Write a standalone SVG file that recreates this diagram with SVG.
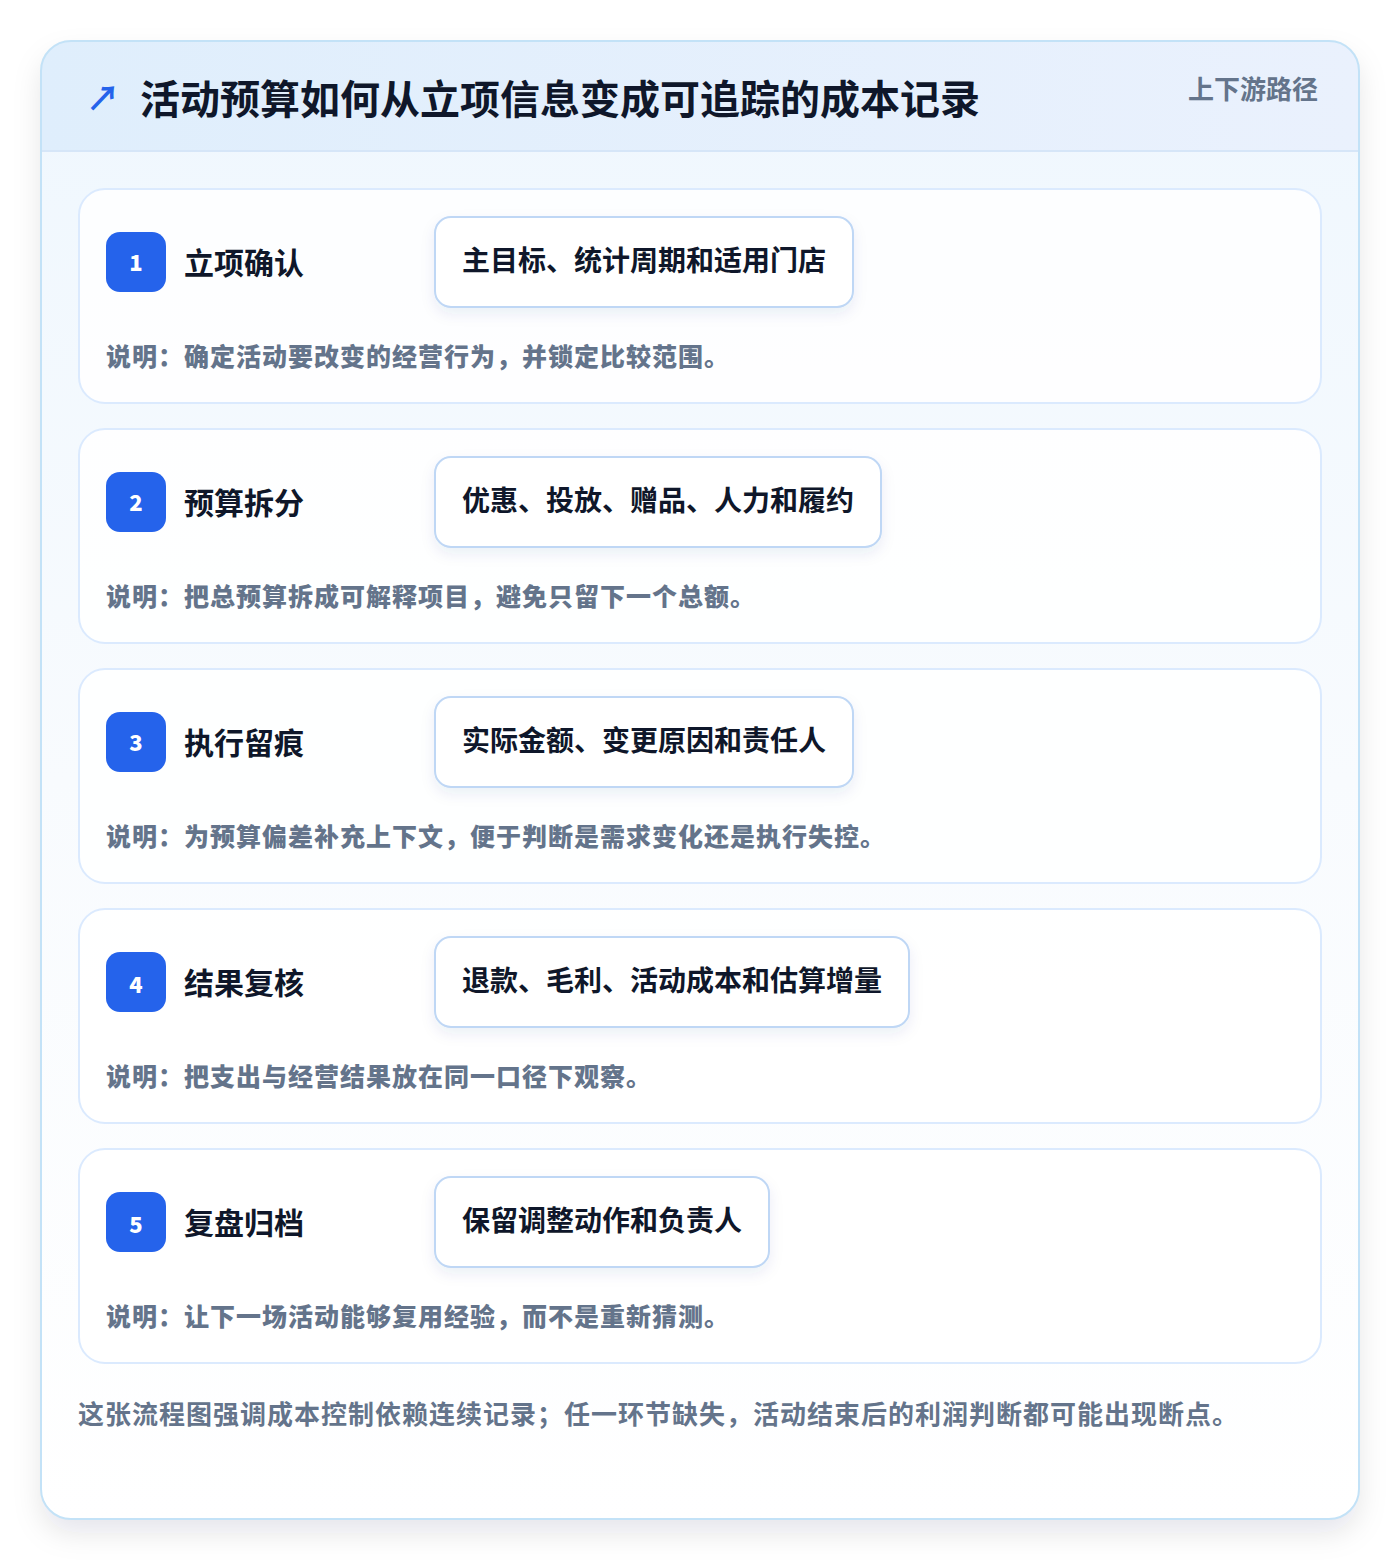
<svg xmlns="http://www.w3.org/2000/svg" width="1400" height="1560" viewBox="0 0 1400 1560">
<defs>
<linearGradient id="hdr" x1="0" y1="0" x2="1" y2="0"><stop offset="0" stop-color="#dfeefc"/><stop offset="1" stop-color="#eaf1fd"/></linearGradient>
<linearGradient id="body" x1="0" y1="0" x2="0" y2="1"><stop offset="0" stop-color="#eff7fe"/><stop offset="0.5" stop-color="#f8fbfe"/><stop offset="1" stop-color="#ffffff"/></linearGradient>
<filter id="sh" x="-10%" y="-10%" width="120%" height="120%"><feDropShadow dx="0" dy="14" stdDeviation="14" flood-color="#0f172a" flood-opacity="0.10"/></filter>
<filter id="psh" x="-10%" y="-20%" width="120%" height="150%"><feDropShadow dx="0" dy="6" stdDeviation="7" flood-color="#1e3a8a" flood-opacity="0.08"/></filter>
<clipPath id="outer"><rect x="41" y="41" width="1318" height="1478" rx="30"/></clipPath>
<style>
.t{font-family:"Noto Sans CJK SC","Noto Sans",sans-serif;font-weight:700}
.card{fill:#ffffff;fill-opacity:0.85;stroke:#dbeafe;stroke-width:2}
.badge{fill:#2563eb}
.num{fill:#ffffff;font-size:22px;text-anchor:middle;font-weight:900}
.title{fill:#0f172a;font-size:30px}
.pill{fill:#ffffff;stroke:#bfd7f5;stroke-width:2}
.ptext{fill:#0f172a;font-size:28px}
.desc{fill:#64748b;font-size:25px;letter-spacing:1px;font-weight:900}
</style>
</defs>
<rect width="1400" height="1560" fill="#ffffff"/>
<g id="frame">
<rect x="41" y="41" width="1318" height="1478" rx="30" fill="url(#body)" filter="url(#sh)"/>
<g clip-path="url(#outer)"><rect x="41" y="41" width="1318" height="110" fill="url(#hdr)"/><line x1="41" y1="151" x2="1359" y2="151" stroke="#d6e6f8" stroke-width="2"/></g>
<rect x="41" y="41" width="1318" height="1478" rx="30" fill="none" stroke="#c3e2f7" stroke-width="2"/>
<text class="t" x="86" y="111" font-size="34" fill="#2563eb">↗</text>
<text class="t" x="140" y="114" font-size="40" fill="#0f172a">活动预算如何从立项信息变成可追踪的成本记录</text>
<text class="t" x="1318" y="99" font-size="26" fill="#64748b" text-anchor="end">上下游路径</text>
</g>
<g id="step1">
<rect class="card" x="79" y="189" width="1242" height="214" rx="26"/>
<rect class="badge" x="106" y="232" width="60" height="60" rx="14"/>
<text class="t num" x="136" y="271">1</text>
<text class="t title" x="184" y="274">立项确认</text>
<rect class="pill" x="435" y="217" width="418" height="90" rx="16" filter="url(#psh)"/>
<text class="t ptext" x="462" y="271">主目标、统计周期和适用门店</text>
<text class="t desc" x="106" y="366">说明：确定活动要改变的经营行为，并锁定比较范围。</text>
</g>
<g id="step2">
<rect class="card" x="79" y="429" width="1242" height="214" rx="26"/>
<rect class="badge" x="106" y="472" width="60" height="60" rx="14"/>
<text class="t num" x="136" y="511">2</text>
<text class="t title" x="184" y="514">预算拆分</text>
<rect class="pill" x="435" y="457" width="446" height="90" rx="16" filter="url(#psh)"/>
<text class="t ptext" x="462" y="511">优惠、投放、赠品、人力和履约</text>
<text class="t desc" x="106" y="606">说明：把总预算拆成可解释项目，避免只留下一个总额。</text>
</g>
<g id="step3">
<rect class="card" x="79" y="669" width="1242" height="214" rx="26"/>
<rect class="badge" x="106" y="712" width="60" height="60" rx="14"/>
<text class="t num" x="136" y="751">3</text>
<text class="t title" x="184" y="754">执行留痕</text>
<rect class="pill" x="435" y="697" width="418" height="90" rx="16" filter="url(#psh)"/>
<text class="t ptext" x="462" y="751">实际金额、变更原因和责任人</text>
<text class="t desc" x="106" y="846">说明：为预算偏差补充上下文，便于判断是需求变化还是执行失控。</text>
</g>
<g id="step4">
<rect class="card" x="79" y="909" width="1242" height="214" rx="26"/>
<rect class="badge" x="106" y="952" width="60" height="60" rx="14"/>
<text class="t num" x="136" y="993">4</text>
<text class="t title" x="184" y="994">结果复核</text>
<rect class="pill" x="435" y="937" width="474" height="90" rx="16" filter="url(#psh)"/>
<text class="t ptext" x="462" y="991">退款、毛利、活动成本和估算增量</text>
<text class="t desc" x="106" y="1086">说明：把支出与经营结果放在同一口径下观察。</text>
</g>
<g id="step5">
<rect class="card" x="79" y="1149" width="1242" height="214" rx="26"/>
<rect class="badge" x="106" y="1192" width="60" height="60" rx="14"/>
<text class="t num" x="136" y="1233">5</text>
<text class="t title" x="184" y="1234">复盘归档</text>
<rect class="pill" x="435" y="1177" width="334" height="90" rx="16" filter="url(#psh)"/>
<text class="t ptext" x="462" y="1231">保留调整动作和负责人</text>
<text class="t desc" x="106" y="1326">说明：让下一场活动能够复用经验，而不是重新猜测。</text>
</g>
<g id="connectors"/>
<text class="t" x="78" y="1424" font-size="26" letter-spacing="1" font-weight="900" fill="#64748b">这张流程图强调成本控制依赖连续记录；任一环节缺失，活动结束后的利润判断都可能出现断点。</text>
</svg>
